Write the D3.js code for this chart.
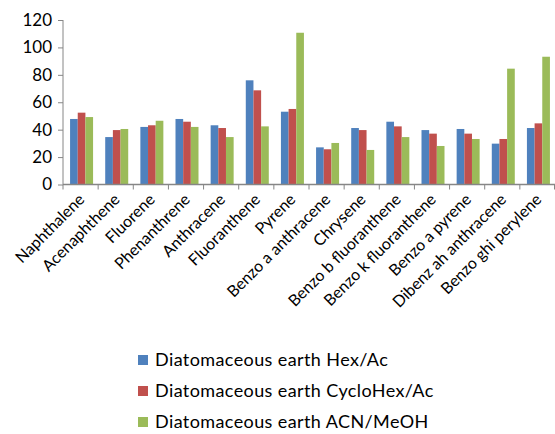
<!DOCTYPE html>
<html><head><meta charset="utf-8">
<script src="https://cdn.jsdelivr.net/npm/d3@7"></script>
<style>body{margin:0;background:#fff}</style>
</head><body><svg id="c" width="555" height="434"></svg>
<script>
const categories = ["Naphthalene","Acenaphthene","Fluorene","Phenanthrene","Anthracene","Fluoranthene","Pyrene","Benzo a anthracene","Chrysene","Benzo b fluoranthene","Benzo k fluoranthene","Benzo a pyrene","Dibenz ah anthracene","Benzo ghi perylene"];
const seriesNames = ["Diatomaceous earth Hex/Ac","Diatomaceous earth CycloHex/Ac","Diatomaceous earth ACN/MeOH"];
const hexAc = [47.8,34.6,42.0,47.8,43.2,76.0,53.1,27.1,41.2,45.8,39.7,40.5,29.8,41.2];
const cycloHexAc = [52.4,39.7,43.2,45.8,41.2,68.7,55.1,25.7,39.7,42.4,37.1,37.1,33.2,44.6];
const acnMeoh = [49.2,40.5,46.5,42.0,34.6,42.4,110.7,30.3,25.2,34.6,28.1,33.2,84.5,93.2];
const yTicks = [0,20,40,60,80,100,120];
const colors = ["#4f81bd","#c0504d","#9bbb59"];
const series = [hexAc, cycloHexAc, acnMeoh];

const svg = d3.select("#c");
const font = "Lato, 'Open Sans', sans-serif";
const x = d3.scaleBand().domain(categories).range([63,555]);
const y = d3.scaleLinear().domain([0,120]).range([184.5,20]);
const xs = d3.scaleBand().domain(d3.range(3)).range([0, 23]);
const gw = 23;

const grp = svg.append("g");
categories.forEach((c,i)=>{
  series.forEach((s,j)=>{
    grp.append("rect")
      .attr("x", x(c) + (x.bandwidth()-gw)/2 + 1 + xs(j))
      .attr("y", y(s[i]))
      .attr("width", xs.bandwidth())
      .attr("height", y(0)-y(s[i]))
      .attr("fill", colors[j]);
  });
});

// y axis
const ya = svg.append("g").attr("transform","translate(63,0)")
  .call(d3.axisLeft(y).tickValues(yTicks).tickSize(5).tickPadding(6));
ya.select(".domain").attr("stroke","#868686").attr("d","M0,20V184.5");
ya.selectAll(".tick line").attr("stroke","#868686");
ya.selectAll("text").attr("font-family",font).attr("font-size",17).attr("fill","#000");

// x axis
const xa = svg.append("g").attr("transform","translate(0,184.5)");
xa.append("line").attr("x1",63).attr("x2",555).attr("stroke","#868686").attr("stroke-width",1.5);
const edges = categories.map(c=>x(c)).concat([x.range()[1]-0.5]);
xa.selectAll(".tk").data(edges).enter().append("line")
  .attr("x1",d=>d).attr("x2",d=>d).attr("y1",0).attr("y2",5).attr("stroke","#868686");
xa.selectAll(".lbl").data(categories).enter().append("text")
  .attr("transform",d=>`translate(${x(d)+x.bandwidth()/2+5},${16}) rotate(-45)`)
  .attr("text-anchor","end").attr("font-family",font).attr("font-size",16).attr("fill","#000")
  .text(d=>d);

// legend
const lg = svg.append("g");
seriesNames.forEach((n,j)=>{
  const cy = 360 + j*31;
  lg.append("rect").attr("x",138).attr("y",cy-5).attr("width",10).attr("height",10).attr("fill",colors[j]);
  lg.append("text").attr("x",155).attr("y",cy).attr("dy","0.35em")
    .attr("font-family",font).attr("font-size",18).attr("letter-spacing","0.4").attr("fill","#000").text(n);
});
</script></body></html>
